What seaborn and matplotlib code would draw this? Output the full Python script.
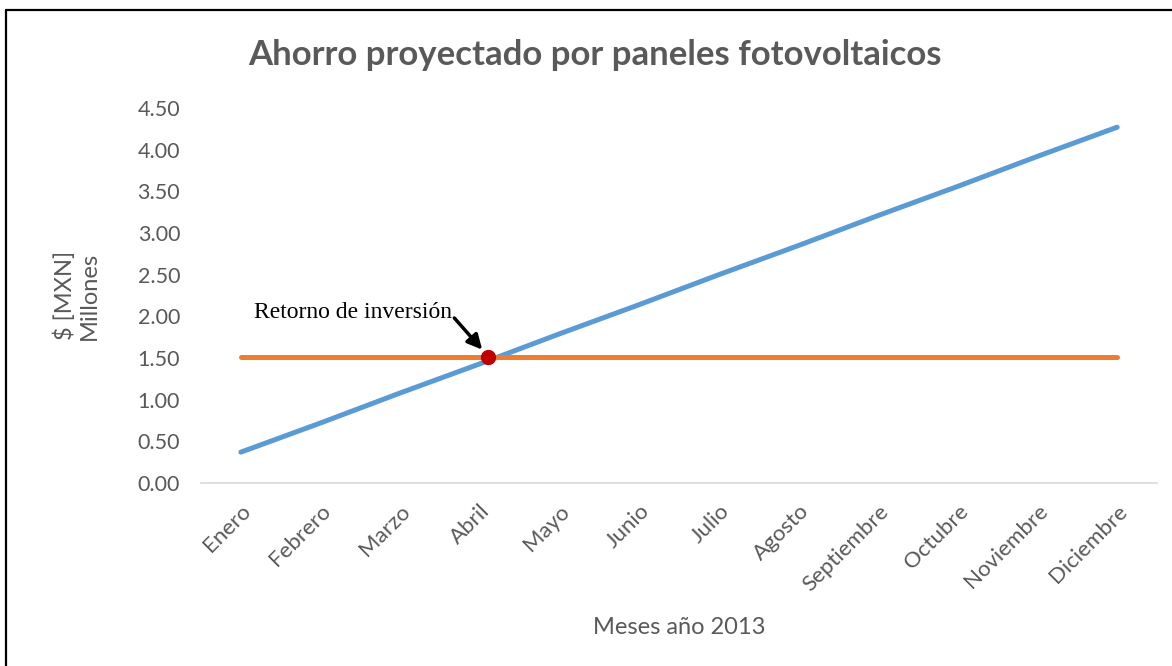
import matplotlib.pyplot as plt
import matplotlib.lines as mlines
import pandas as pd
import seaborn as sns

MESES = ['Enero', 'Febrero', 'Marzo', 'Abril', 'Mayo', 'Junio', 'Julio',
         'Agosto', 'Septiembre', 'Octubre', 'Noviembre', 'Diciembre']
AHORRO = [0.37, 0.72, 1.08, 1.43, 1.79, 2.14, 2.50, 2.85, 3.21, 3.56, 3.92, 4.27]
INVERSION = [1.51] * 12
RETORNO_X = 3.1
RETORNO_Y = 1.51

sns.set_style('white')
plt.rcParams['font.family'] = ['Lato', 'DejaVu Sans']

GRIS = '#595959'
df = pd.DataFrame({'pos': range(len(MESES)), 'ahorro': AHORRO, 'inversion': INVERSION})

fig = plt.figure(figsize=(11.72, 6.66), dpi=100)
ax = fig.add_axes([0.1715, 0.2748, 0.8157, 0.5630])

sns.lineplot(data=df, x='pos', y='ahorro', ax=ax, color='#5B9BD5', linewidth=3.6,
             solid_capstyle='round')
sns.lineplot(data=df, x='pos', y='inversion', ax=ax, color='#ED7D31', linewidth=3.6,
             solid_capstyle='round')
ax.plot([RETORNO_X], [RETORNO_Y], 'o', color='#C00000', markersize=10, zorder=5)

ax.set_xlim(-0.5, 11.5)
ax.set_ylim(0, 4.5)
ax.set_yticks([i * 0.5 for i in range(10)])
ax.set_yticklabels([f'{i * 0.5:.2f}' for i in range(10)])
ax.set_xticks(range(len(MESES)))
ax.set_xticklabels(MESES, rotation=45, ha='right', rotation_mode='anchor')
ax.tick_params(axis='y', length=0, labelsize=15.5, labelcolor=GRIS, pad=15)
ax.tick_params(axis='x', length=0, labelsize=16, labelcolor=GRIS, pad=13)

for lado in ['top', 'right', 'left']:
    ax.spines[lado].set_visible(False)
ax.spines['bottom'].set_color('#D9D9D9')
ax.spines['bottom'].set_linewidth(1.2)

ax.set_xlabel('Meses año 2013', fontsize=17, color=GRIS, labelpad=16)
ax.set_ylabel('$ [MXN]\nMillones', fontsize=17, color=GRIS, labelpad=27)

ax.text(1.41, 2.05, 'Retorno de inversión', fontsize=17, family='Liberation Serif',
        ha='center', va='center', color='black')
ax.annotate('', xy=(3.03, 1.60), xytext=(2.68, 1.98),
            arrowprops=dict(arrowstyle='-|>', color='black', lw=2.5, mutation_scale=22,
                            shrinkA=0, shrinkB=0))

fig.text(0.508, 0.917, 'Ahorro proyectado por paneles fotovoltaicos', fontsize=25,
         fontweight='bold', color=GRIS, ha='center', va='center')

# marco recortado (solo borde superior e izquierdo visibles)
fig.add_artist(mlines.Line2D([6 / 1172, 1], [1 - 10 / 666, 1 - 10 / 666], color='black', lw=1.6))
fig.add_artist(mlines.Line2D([6 / 1172, 6 / 1172], [0, 1 - 10 / 666], color='black', lw=1.6))

fig.savefig('out.png', dpi=100)
